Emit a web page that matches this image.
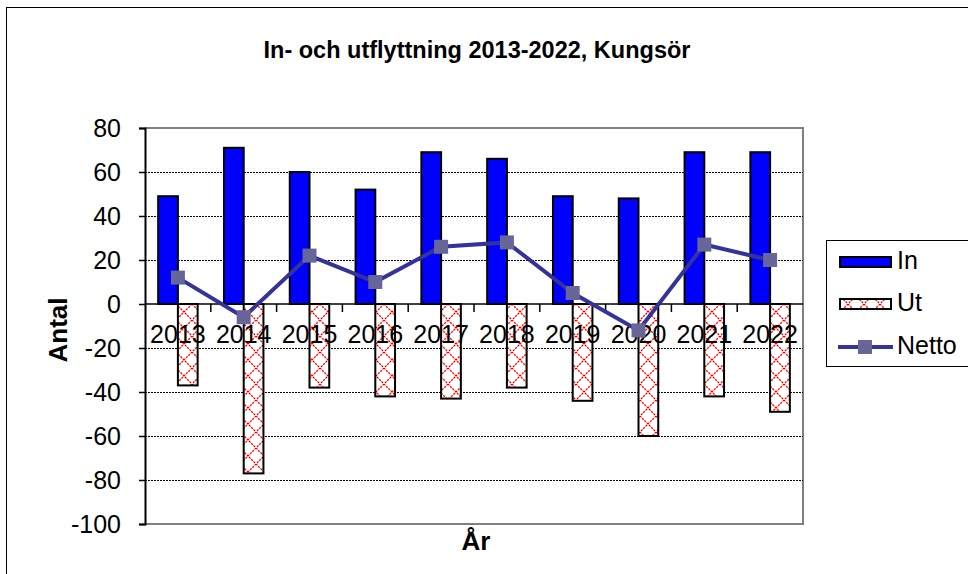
<!DOCTYPE html>
<html>
<head>
<meta charset="utf-8">
<script src="https://cdn.jsdelivr.net/npm/d3@7"></script>
<style>
  body { margin: 0; background: #fff; }
  text { font-family: "Liberation Sans", Arial, sans-serif; }
</style>
</head>
<body>
<div id="chart"></div>
<script>
// data
let years = ["2013", "2014", "2015", "2016", "2017", "2018", "2019", "2020", "2021", "2022"];
let inValues = [49, 71, 60, 52, 69, 66, 49, 48, 69, 69];
let utValues = [-37, -77, -38, -42, -43, -38, -44, -60, -42, -49];
let nettoValues = [12, -6, 22, 10, 26, 28, 5, -12, 27, 20];
let yTicks = [80, 60, 40, 20, 0, -20, -40, -60, -80, -100];

let width = 968,
  height = 574,
  plotLeft = 145,
  plotRight = 803,
  plotTop = 128,
  plotBottom = 524;

let svg = d3
  .select("#chart")
  .append("svg")
  .attr("width", width)
  .attr("height", height);

// pattern for the "Ut" bars (red dotted cross hatch)
let defs = svg.append("defs");
let pat = defs
  .append("pattern")
  .attr("id", "cross")
  .attr("patternUnits", "userSpaceOnUse")
  .attr("width", 16)
  .attr("height", 16);
pat.append("rect").attr("width", 16).attr("height", 16).attr("fill", "#fff");
pat
  .append("path")
  .attr("d", "M0,0 L16,16 M16,0 L0,16")
  .attr("stroke", "#ff0000")
  .attr("stroke-width", 1.3)
  .attr("stroke-dasharray", "2,1.2");

// outer frame (runs off the right/bottom edge like the original)
svg
  .append("rect")
  .attr("x", 6.5)
  .attr("y", 7.5)
  .attr("width", 1000)
  .attr("height", 600)
  .attr("fill", "none")
  .attr("stroke", "#000")
  .attr("stroke-width", 1);

// scales
let xScale = d3
  .scaleBand()
  .domain(years)
  .range([plotLeft, plotRight]);

let yScale = d3
  .scaleLinear()
  .domain([-100, 80])
  .range([plotBottom, plotTop]);

let barW = xScale.bandwidth() * 0.3;

// plot frame (gray top / right / bottom)
svg
  .append("path")
  .attr("d", `M${plotLeft},${plotTop} H${plotRight} V${plotBottom} H${plotLeft}`)
  .attr("fill", "none")
  .attr("stroke", "#808080")
  .attr("stroke-width", 2);

// gridlines
svg
  .append("g")
  .selectAll("line")
  .data(yTicks.filter((d) => d !== 80 && d !== -100 && d !== 0))
  .enter()
  .append("line")
  .attr("x1", plotLeft)
  .attr("x2", plotRight)
  .attr("y1", (d) => yScale(d) + 0.5)
  .attr("y2", (d) => yScale(d) + 0.5)
  .attr("stroke", "#000")
  .attr("stroke-width", 1)
  .attr("stroke-dasharray", "2,1");

// y axis
let yAxis = d3
  .axisLeft(yScale)
  .tickValues(yTicks)
  .tickFormat((d) => String(d))
  .tickSize(6)
  .tickPadding(18);
let yAxisGroup = svg
  .append("g")
  .attr("transform", `translate(${plotLeft}, 0)`)
  .call(yAxis);
yAxisGroup.select(".domain").attr("stroke", "#000").attr("stroke-width", 2);
yAxisGroup.selectAll(".tick line").attr("stroke", "#000").attr("stroke-width", 1.5);
yAxisGroup
  .selectAll("text")
  .style("font-size", "25px")
  .style("font-family", "'Liberation Sans', Arial, sans-serif")
  .attr("fill", "#000");

// In bars
svg
  .append("g")
  .selectAll("rect")
  .data(inValues)
  .enter()
  .append("rect")
  .attr("x", (d, i) => xScale(years[i]) + xScale.bandwidth() / 2 - barW)
  .attr("y", (d) => yScale(d))
  .attr("width", barW)
  .attr("height", (d) => yScale(0) - yScale(d))
  .attr("fill", "#0000ff")
  .attr("stroke", "#000")
  .attr("stroke-width", 2);

// Ut bars
svg
  .append("g")
  .selectAll("rect")
  .data(utValues)
  .enter()
  .append("rect")
  .attr("x", (d, i) => xScale(years[i]) + xScale.bandwidth() / 2)
  .attr("y", yScale(0))
  .attr("width", barW)
  .attr("height", (d) => yScale(d) - yScale(0))
  .attr("fill", "url(#cross)")
  .attr("stroke", "#000")
  .attr("stroke-width", 2);

// category axis at zero
let xAxisGroup = svg
  .append("g")
  .attr("transform", `translate(0, ${yScale(0)})`);
xAxisGroup
  .append("line")
  .attr("x1", plotLeft)
  .attr("x2", plotRight)
  .attr("stroke", "#000")
  .attr("stroke-width", 1.5);
xAxisGroup
  .selectAll(".tk")
  .data(years.slice(1))
  .enter()
  .append("line")
  .attr("x1", (d) => xScale(d))
  .attr("x2", (d) => xScale(d))
  .attr("y1", 0)
  .attr("y2", 8)
  .attr("stroke", "#000")
  .attr("stroke-width", 1.5);
xAxisGroup
  .selectAll("text")
  .data(years)
  .enter()
  .append("text")
  .attr("x", (d) => xScale(d) + xScale.bandwidth() / 2)
  .attr("y", 39)
  .attr("text-anchor", "middle")
  .style("font-size", "25px")
  .text((d) => d);

// Netto line
let line = d3
  .line()
  .x((d, i) => xScale(years[i]) + xScale.bandwidth() / 2)
  .y((d) => yScale(d));
svg
  .append("path")
  .datum(nettoValues)
  .attr("d", line)
  .attr("fill", "none")
  .attr("stroke", "#333399")
  .attr("stroke-width", 4);
svg
  .append("g")
  .selectAll("rect")
  .data(nettoValues)
  .enter()
  .append("rect")
  .attr("x", (d, i) => xScale(years[i]) + xScale.bandwidth() / 2 - 7)
  .attr("y", (d) => yScale(d) - 7)
  .attr("width", 14)
  .attr("height", 14)
  .attr("fill", "#666699");

// titles
svg
  .append("text")
  .attr("x", 477)
  .attr("y", 58)
  .attr("text-anchor", "middle")
  .style("font-size", "23.5px")
  .style("font-weight", "bold")
  .text("In- och utflyttning 2013-2022, Kungsör");

svg
  .append("text")
  .attr("transform", "translate(67, 330) rotate(-90)")
  .attr("text-anchor", "middle")
  .style("font-size", "26px")
  .style("font-weight", "bold")
  .text("Antal");

svg
  .append("text")
  .attr("x", 476)
  .attr("y", 550)
  .attr("text-anchor", "middle")
  .style("font-size", "26px")
  .style("font-weight", "bold")
  .text("År");

// legend
let legend = svg.append("g");
legend
  .append("rect")
  .attr("x", 826.5)
  .attr("y", 240.5)
  .attr("width", 160)
  .attr("height", 126)
  .attr("fill", "#fff")
  .attr("stroke", "#000")
  .attr("stroke-width", 1);

let legendItems = ["In", "Ut", "Netto"];
let legendY = [262, 304, 347];

legend
  .append("rect")
  .attr("x", 840)
  .attr("y", legendY[0] - 5)
  .attr("width", 51)
  .attr("height", 10)
  .attr("fill", "#0000ff")
  .attr("stroke", "#000")
  .attr("stroke-width", 2);
legend
  .append("rect")
  .attr("x", 840)
  .attr("y", legendY[1] - 5)
  .attr("width", 51)
  .attr("height", 10)
  .attr("fill", "url(#cross)")
  .attr("stroke", "#000")
  .attr("stroke-width", 2);
legend
  .append("line")
  .attr("x1", 838)
  .attr("x2", 893)
  .attr("y1", legendY[2])
  .attr("y2", legendY[2])
  .attr("stroke", "#333399")
  .attr("stroke-width", 4);
legend
  .append("rect")
  .attr("x", 858)
  .attr("y", legendY[2] - 7)
  .attr("width", 14)
  .attr("height", 14)
  .attr("fill", "#666699");

legend
  .selectAll("text")
  .data(legendItems)
  .enter()
  .append("text")
  .attr("x", 897)
  .attr("y", (d, i) => legendY[i] + 7)
  .style("font-size", "25px")
  .text((d) => d);
</script>
</body>
</html>
